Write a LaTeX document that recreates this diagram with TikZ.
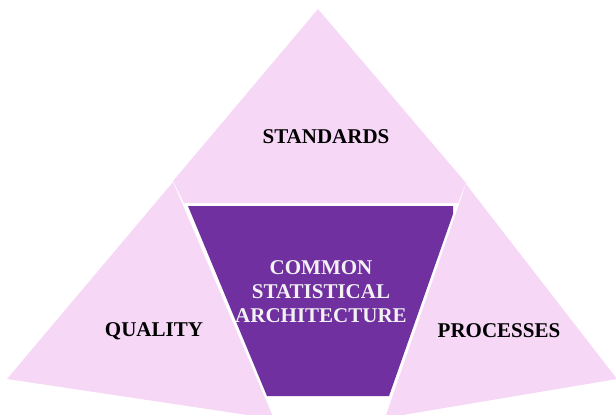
\documentclass[tikz,border=0pt]{standalone}
\usepackage{fontspec}
\setmainfont{Liberation Serif}
\definecolor{petal}{HTML}{F6D7F6}
\definecolor{core}{HTML}{7030A0}
\definecolor{coretext}{HTML}{F2F2F2}

\begin{document}
\begin{tikzpicture}[x=1pt, y=-1pt,
    side/.style={fill=petal},
    tag/.style={font=\fontsize{21}{24}\selectfont\bfseries, align=center}]
    \useasboundingbox (0,0) rectangle (616,415);
    \clip (0,0) rectangle (616,415);

    % outer pieces
    \fill[side] (318,9) -- (466,183) -- (458,203) -- (184,203) -- (173,181) -- cycle;
    \fill[side] (173,182) -- (7,379) -- (274,419) -- cycle;
    \fill[side] (466,184) -- (617,379) -- (385,418) -- cycle;

    % centre piece
    \fill[core] (188,206) -- (453,206) -- (453,214) -- (389,396) -- (267,396) -- cycle;

    \node[tag] (standards) at (326,137) {STANDARDS};
    \node[tag] (quality) at (154,331) {QUALITY};
    \node[tag] (processes) at (499,331) {PROCESSES};
    \node[tag, text=coretext] (csa) at (321,292) {COMMON\\STATISTICAL\\ARCHITECTURE};
\end{tikzpicture}
\end{document}
